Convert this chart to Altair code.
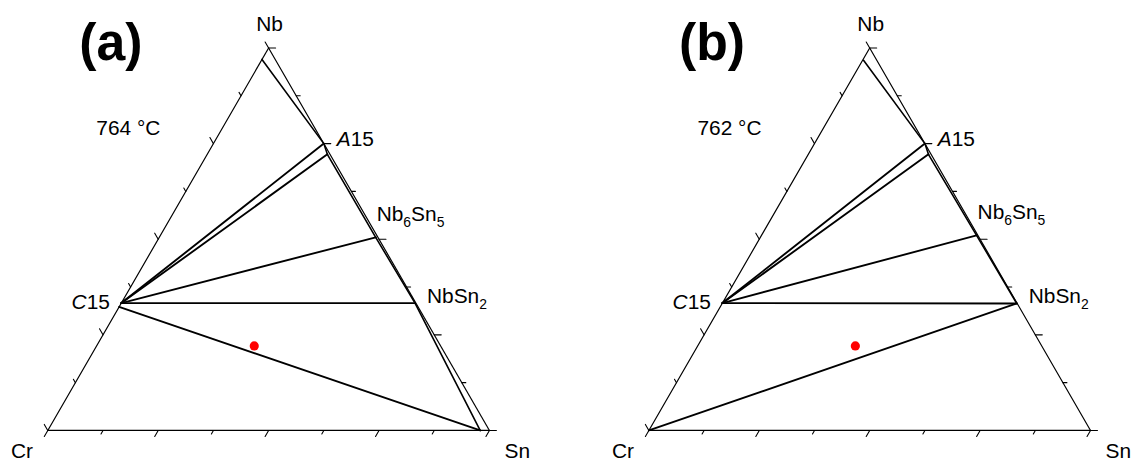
import math
import altair as alt
import pandas as pd

# ---------------- data ----------------
PANEL_TAGS = ["(a)", "(b)"]
TEMPERATURES = ["764 °C", "762 °C"]

# phase points: atomic fractions of Nb and Sn (Cr is the balance)
PHASES = ["Nb", "A15", "A15'", "Nb6Sn5", "NbSn2", "C15", "C15'", "L", "Cr"]
NB_A = [0.970, 0.750, 0.722, 0.505, 0.333, 0.333, 0.323, 0.000, 0.0]
SN_A = [0.000, 0.250, 0.272, 0.490, 0.665, 0.000, 0.000, 0.979, 0.0]
NB_B = [0.968, 0.750, 0.722, 0.510, 0.332, 0.333, 0.333, 0.000, 0.0]
SN_B = [0.002, 0.250, 0.272, 0.487, 0.667, 0.000, 0.000, 0.979, 0.0]

# single-phase boundary polylines and tie lines
BOUNDARY_A = ["Nb", "A15", "A15'", "Nb6Sn5", "NbSn2", "L"]
BOUNDARY_B = ["Nb", "A15", "A15'", "Nb6Sn5", "NbSn2"]
TIES_A = [("C15", "A15"), ("C15", "A15'"), ("C15", "Nb6Sn5"), ("C15", "NbSn2"), ("C15'", "L")]
TIES_B = [("C15", "A15"), ("C15", "A15'"), ("C15", "Nb6Sn5"), ("C15", "NbSn2"), ("NbSn2", "Cr")]

# alloy composition (red dot)
ALLOY_NB = [0.221]
ALLOY_SN = [0.357]

# axis ticks (fractions along each edge)
TICKS = [k / 8 for k in range(9)]

# ---------------- layout ----------------
PX = 444.0                     # pixels per composition unit
PANEL_W, PANEL_H = 562, 448
XMIN = [-40.0 / PX, -82.3 / PX]
YMAX = 423.5 / PX
FONT = "Liberation Sans"
FS, SUB = 21, 14
S3 = math.sqrt(3) / 2


def cart(nb, sn):
    return sn + nb / 2.0, nb * S3


def panel(i, nbs, sns, boundary, ties):
    pts = {p: cart(nb, sn) for p, nb, sn in zip(PHASES, nbs, sns)}
    xs = alt.Scale(domain=[XMIN[i], XMIN[i] + PANEL_W / PX], nice=False, zero=False)
    ys = alt.Scale(domain=[YMAX - PANEL_H / PX, YMAX], nice=False, zero=False)

    def enc(ch):
        return ch.encode(
            x=alt.X("x:Q", scale=xs, axis=None),
            y=alt.Y("y:Q", scale=ys, axis=None),
        )

    def rule(rows, w):
        df = pd.DataFrame(rows, columns=["x", "y", "x2", "y2"])
        return alt.Chart(df).mark_rule(color="black", strokeWidth=w, strokeCap="round").encode(
            x=alt.X("x:Q", scale=xs, axis=None),
            y=alt.Y("y:Q", scale=ys, axis=None),
            x2="x2:Q", y2="y2:Q",
        )

    corners = {"Cr": cart(0, 0), "Sn": cart(0, 1), "Nb": cart(1, 0)}
    edges = [
        (*corners["Cr"], *corners["Sn"]),
        (*corners["Sn"], *corners["Nb"]),
        (*corners["Nb"], *corners["Cr"]),
    ]
    ticks = []
    for k, f in enumerate(TICKS):
        l = (7.0 if k % 2 == 0 else 4.0) / PX
        bx, by = cart(0, f)
        ticks.append((bx, by, bx - 0.5 * l, by - S3 * l))
        lx, ly = cart(f, 0)
        ticks.append((lx, ly, lx - 0.5 * l, ly + S3 * l))
        rx, ry = cart(f, 1 - f)
        ticks.append((rx, ry, rx + l, ry))

    bnd = [(*pts[a], *pts[b]) for a, b in zip(boundary[:-1], boundary[1:])]
    tie = [(*pts[a], *pts[b]) for a, b in ties]

    layers = [rule(edges, 1.2), rule(ticks, 1.1), rule(bnd, 1.6), rule(tie, 1.9)]

    ax, ay = cart(ALLOY_NB[0], ALLOY_SN[0])
    layers.append(enc(alt.Chart(pd.DataFrame({"x": [ax], "y": [ay]})).mark_circle(
        size=85, color="#ff0000", opacity=1)))

    def label(x, y, text, dx=0, dy=0, size=FS, align="left", style="normal", weight="normal"):
        return alt.Chart(pd.DataFrame({"x": [x], "y": [y], "t": [text]})).mark_text(
            dx=dx, dy=dy, fontSize=size, align=align, baseline="alphabetic", font=FONT,
            fontStyle=style, fontWeight=weight, color="black",
        ).encode(
            x=alt.X("x:Q", scale=xs, axis=None),
            y=alt.Y("y:Q", scale=ys, axis=None),
            text="t:N",
        )

    nbx, nby = corners["Nb"]
    crx, cry = corners["Cr"]
    snx, sny = corners["Sn"]
    layers += [
        label(nbx, nby, "Nb", dx=1, dy=-17, align="center"),
        label(crx, cry, "Cr", dx=-26, dy=28, align="center"),
        label(snx, sny, "Sn", dx=28, dy=28, align="center"),
        label(0.143, 0.839, PANEL_TAGS[i], size=52, align="center", weight="bold"),
        label(0.110, 0.668, TEMPERATURES[i]),
    ]
    # A15 (italic A)
    x, y = pts["A15"]
    layers += [label(x, y, "A", dx=13, dy=2, style="italic"),
               label(x, y, "15", dx=27, dy=2)]
    # Nb6Sn5
    x, y = pts["Nb6Sn5"]
    layers += [label(x, y, "Nb", dx=1, dy=-16),
               label(x, y, "6", dx=27.8, dy=-10, size=SUB),
               label(x, y, "Sn", dx=35.6, dy=-16),
               label(x, y, "5", dx=61.3, dy=-10, size=SUB)]
    # NbSn2
    x, y = pts["NbSn2"]
    layers += [label(x, y, "NbSn", dx=12, dy=0),
               label(x, y, "2", dx=64.5, dy=6, size=SUB)]
    # C15 (italic C)
    x, y = pts["C15"]
    layers += [label(x, y, "15", dx=-11.5, dy=6, align="right"),
               label(x, y, "C", dx=-34.9, dy=6, align="right", style="italic")]

    return alt.layer(*layers).properties(width=PANEL_W, height=PANEL_H)


chart = alt.hconcat(
    panel(0, NB_A, SN_A, BOUNDARY_A, TIES_A),
    panel(1, NB_B, SN_B, BOUNDARY_B, TIES_B),
    spacing=0,
).properties(padding=0).configure_view(stroke=None)

chart.save("out.html", embed_options={"renderer": "svg", "actions": False})
